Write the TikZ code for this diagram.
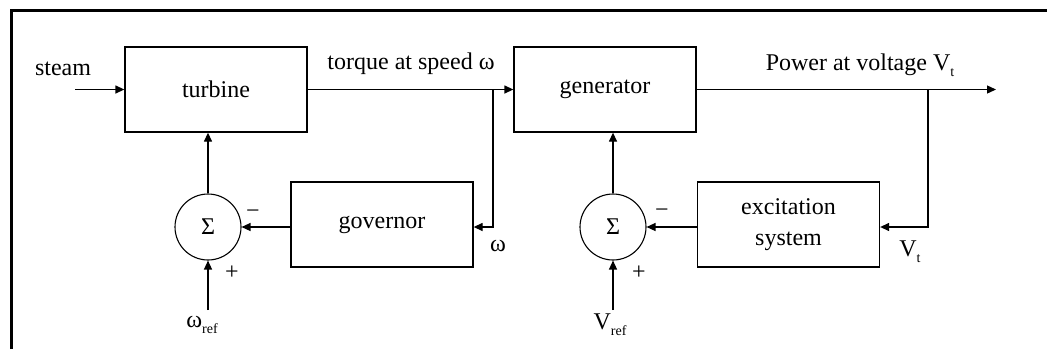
\documentclass[tikz,border=0pt]{standalone}
\usepackage{fontspec}
\setmainfont{Liberation Serif}
\usetikzlibrary{arrows.meta}
\newcommand{\lowsub}[2]{#1\raisebox{-6pt}{\fontsize{14}{14}\selectfont #2}}
\tikzset{
  block/.style={draw, line width=1.3pt, minimum width=182pt, minimum height=85pt, inner sep=0pt},
  sumnode/.style={draw, circle, line width=1.1pt, minimum size=66pt, inner sep=0pt},
  sig/.style={-{Triangle[length=9pt,width=8pt]}, line width=1.3pt},
  lbl/.style={inner sep=0pt}
}
\begin{document}
\begin{tikzpicture}[x=1pt, y=-1pt, every node/.style={font=\fontsize{24}{31}\selectfont}]
    \useasboundingbox (0,0) rectangle (1047,349);
    \draw[line width=3pt] (11,349) -- (11,10) -- (1047,10);
    % forward path
    \node[block] (turbine) at (216,89.5) {turbine};
    \node[block] (generator) at (605,89.5) {generator};
    \node[block] (governor) at (382,224.5) {governor};
    \node[block, align=center] (excitation) at (788.5,224.5) {excitation\\system};
    \node[sumnode] (sumw) at (208,227) {Σ};
    \node[sumnode] (sumv) at (613,227) {Σ};
    \coordinate (steamin) at (75,89.5);
    \coordinate (wtap) at (493,89.5);
    \coordinate (vtap) at (928,89.5);
    \coordinate (powerout) at (996,89.5);
    \coordinate (wrefin) at (208,310);
    \coordinate (vrefin) at (613,310);
    \draw[sig] (steamin) -- (turbine.west);
    \draw[sig] (turbine.east) -- (generator.west);
    \draw[sig] (generator.east) -- (powerout);
    % feedback loops
    \draw[sig] (wtap) |- (governor.east |- sumw);
    \draw[sig] (vtap) |- (excitation.east |- sumv);
    \draw[sig] (governor.west |- sumw) -- (sumw.east);
    \draw[sig] (excitation.west |- sumv) -- (sumv.east);
    \draw[sig] (sumw.north) -- (sumw.north |- turbine.south);
    \draw[sig] (sumv.north) -- (sumv.north |- generator.south);
    \draw[sig] (wrefin) -- (sumw.south);
    \draw[sig] (vrefin) -- (sumv.south);
    % labels
    \node[lbl] (steam) at (63,69) {steam};
    \node[lbl] (torque) at (411,64) {torque at speed ω};
    \node[lbl] (power) at (860,65) {Power at voltage \lowsub{V}{t}};
    \node[lbl] (wfb) at (498,246) {ω};
    \node[lbl] (vfb) at (910,252) {\lowsub{V}{t}};
    \node[lbl] (wref) at (202,325) {\lowsub{ω}{ref}};
    \node[lbl] (vref) at (610,325) {\lowsub{V}{ref}};
    \node[lbl] at (253,214) {−};
    \node[lbl] at (662,213) {−};
    \node[lbl] at (232,273) {+};
    \node[lbl] at (639,273) {+};
\end{tikzpicture}
\end{document}
